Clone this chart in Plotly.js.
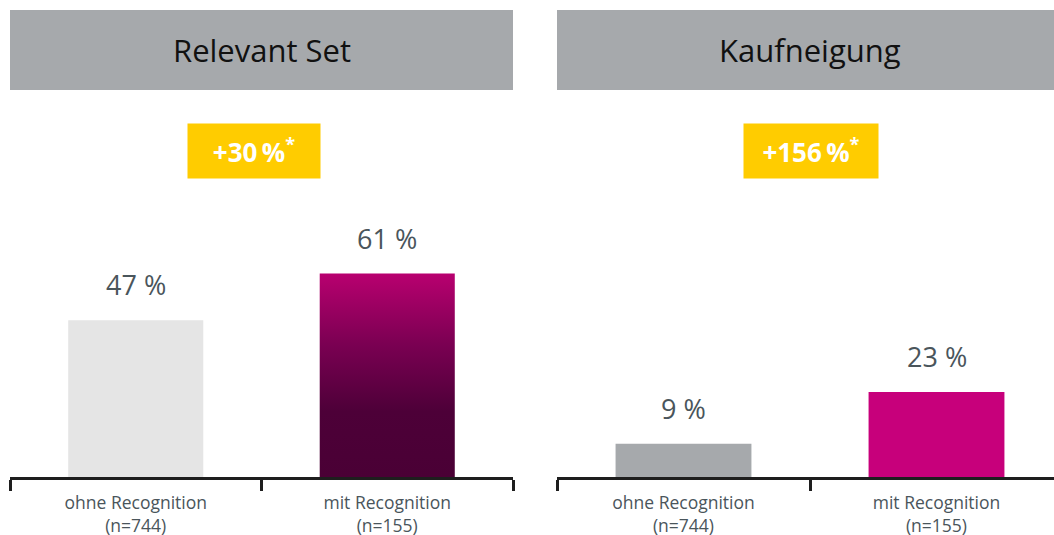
<!DOCTYPE html>
<html>
<head>
<meta charset="utf-8">
<script src="https://cdn.plot.ly/plotly-3.0.1.min.js"></script>
<style>
html,body{margin:0;padding:0;overflow:hidden;background:#fff;}
#chart{width:1070px;height:535px;}
</style>
</head>
<body>
<div id="chart"></div>
<script>
// Data
const categories = ["ohne Recognition<br>(n=744)", "mit Recognition<br>(n=155)"];
const relevantSet = [47, 61];
const kaufneigung = [9, 23];
const panelTitles = ["Relevant Set", "Kaufneigung"];
const upliftLabels = ["+30\u2009%", "+156\u2009%"];

const FONT = "Open Sans, Noto Sans, sans-serif";
const LABEL_COLOR = "#4a555b";
const PLACEHOLDER = "#b5006f";

const traces = [
  {type:"bar", x:categories, y:relevantSet, xaxis:"x", yaxis:"y",
   marker:{color:["#e5e5e5", PLACEHOLDER], line:{width:0}}, hoverinfo:"skip"},
  {type:"bar", x:categories, y:kaufneigung, xaxis:"x2", yaxis:"y2",
   marker:{color:["#a6a9ac", "#c7007b"], line:{width:0}}, hoverinfo:"skip"}
];

const W = 1070, H = 535, B = 58, PH = H - B;
const py = px => (PH - px) / PH; // pixel from top -> paper y

const xaxisBase = {
  type:"category", showline:true, linecolor:"#1e1e1e", linewidth:3,
  ticks:"outside", tickson:"boundaries", ticklen:11, tickwidth:3, tickcolor:"#1e1e1e",
  ticklabelstandoff:8,
  showgrid:false, zeroline:false, fixedrange:true,
  tickfont:{family:FONT, size:17.5, color:LABEL_COLOR}
};
const yaxisBase = {showgrid:false, zeroline:false, showticklabels:false, showline:false, fixedrange:true};

const annotations = [];
const shapes = [];
const series = [relevantSet, kaufneigung];
const axes = [["x","y"],["x2","y2"]];
const badgeX = [0.485, 0.502];
const badgeW = [132, 134];
for (let p = 0; p < 2; p++) {
  const [xa, ya] = axes[p];
  shapes.push({type:"rect", xref:xa+" domain", yref:"paper", x0:0, x1:1, y0:py(90), y1:py(10),
    fillcolor:"#a6a9ac", line:{width:0}, layer:"below"});
  annotations.push({xref:xa+" domain", yref:"paper", x:0.5, y:py(50), xanchor:"center", yanchor:"middle",
    text:panelTitles[p], showarrow:false, font:{family:FONT, size:31, color:"#111"}});
  annotations.push({xref:xa+" domain", yref:"paper", x:badgeX[p], y:py(151), xanchor:"center", yanchor:"middle",
    text:"<b>"+upliftLabels[p]+"</b><sup><b>*</b></sup>", showarrow:false, bgcolor:"#ffcc00",
    width:badgeW[p], height:54, borderpad:0, font:{family:FONT, size:26, color:"#ffffff"}});
  series[p].forEach((v, i) => {
    annotations.push({xref:xa, yref:ya, x:categories[i], y:v, xanchor:"center", yanchor:"bottom",
      yshift:15, text:v+" %", showarrow:false, font:{family:FONT, size:27, color:LABEL_COLOR}});
  });
}

const layout = {
  width:W, height:H, margin:{l:0, r:0, t:0, b:B},
  paper_bgcolor:"#fff", plot_bgcolor:"#fff", showlegend:false,
  bargap:0.463,
  xaxis:Object.assign({}, xaxisBase, {domain:[10/W, 513/W], anchor:"y"}),
  yaxis:Object.assign({}, yaxisBase, {range:[0, 143], anchor:"x"}),
  xaxis2:Object.assign({}, xaxisBase, {domain:[557/W, 1063/W], anchor:"y2"}),
  yaxis2:Object.assign({}, yaxisBase, {range:[0, 129], anchor:"x2"}),
  annotations:annotations, shapes:shapes
};

Plotly.newPlot("chart", traces, layout, {staticPlot:true, displayModeBar:false}).then(gd => {
  const svg = gd.querySelector("svg.main-svg");
  let defs = svg.querySelector("defs");
  const NS = "http://www.w3.org/2000/svg";
  if (!defs) { defs = document.createElementNS(NS, "defs"); svg.insertBefore(defs, svg.firstChild); }
  const grad = document.createElementNS(NS, "linearGradient");
  grad.setAttribute("id", "barGrad");
  grad.setAttribute("x1", "0"); grad.setAttribute("y1", "0");
  grad.setAttribute("x2", "0"); grad.setAttribute("y2", "1");
  [["0", "#b8006f"], ["0.35", "#7a0052"], ["0.68", "#4d0038"], ["1", "#4a0035"]].forEach(([o, c]) => {
    const s = document.createElementNS(NS, "stop");
    s.setAttribute("offset", o); s.setAttribute("stop-color", c);
    grad.appendChild(s);
  });
  defs.appendChild(grad);
  gd.querySelectorAll(".barlayer .point path").forEach(pth => {
    const f = (pth.style.fill || "").replace(/\s/g, "");
    if (f === "rgb(181,0,111)") pth.style.fill = "url(#barGrad)";
  });
});
</script>
</body>
</html>
